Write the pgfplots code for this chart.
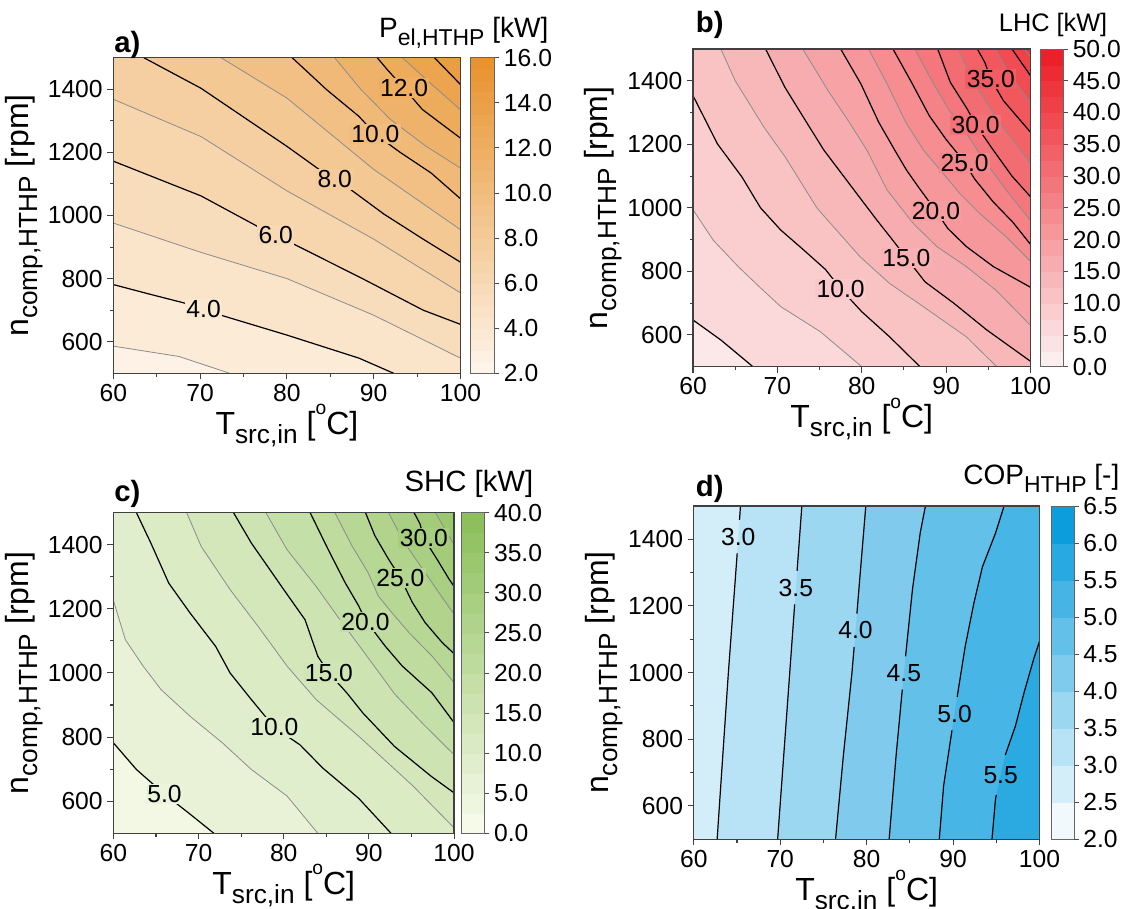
\documentclass[border=0pt]{standalone}
\usepackage{fontspec}
\setmainfont{Liberation Sans}
\usepackage{graphicx}
\usepackage{pgfplots}
\pgfplotsset{compat=1.18}

\definecolor{orA}{RGB}{232,146,44}
\definecolor{lowA}{RGB}{254,246,236}
\definecolor{redB}{RGB}{236,28,36}
\definecolor{lowB}{RGB}{253,243,243}
\definecolor{grnC}{RGB}{138,190,88}
\definecolor{lowC}{RGB}{250,252,238}
\definecolor{bluD}{RGB}{0,152,219}
\definecolor{lowD}{RGB}{255,255,255}
\definecolor{cgray}{RGB}{140,140,140}

\newcommand{\sbs}[1]{\raisebox{-0.28em}{\scalebox{0.82}{#1}}}
\newcommand{\sps}[1]{\raisebox{0.6em}{\scalebox{0.6}{#1}}}
\newcommand{\fs}[1]{\fontsize{#1}{#1}\selectfont}

\tikzset{
  bl/.style={black, line width=0.9pt, line join=round},
  gl/.style={cgray, line width=0.6pt, line join=round},
  lab/.style={font=\fs{18.5}, inner sep=1pt}
}
\pgfplotsset{
  cbs/.style={scale only axis, at={(parent axis.north east)}, anchor=north west,
    tick align=outside, ytick pos=right, yticklabel pos=right,
    major tick length=3.5pt,
    yticklabel style={font=\fs{18.5}, /pgf/number format/.cd, fixed, fixed zerofill, precision=1, assume math mode=true},
    axis line style={black!60, line width=0.6pt},
    every tick/.style={black!70, line width=0.6pt}},
  cp/.style={
    scale only axis, xmin=60, xmax=100, ymin=500, ymax=1500,
    xtick={60,70,80,90,100}, ytick={600,800,1000,1200,1400},
    minor x tick num=1, minor y tick num=1,
    tick align=outside, tick pos=left,
    major tick length=4.5pt, minor tick length=2.5pt,
    every tick/.style={black!75, line width=0.8pt},
    axis line style={black!75, line width=0.9pt},
    tick label style={font=\fs{18.5}},
    /pgf/number format/assume math mode=true,
    /pgf/number format/1000 sep={},
    label style={font=\fs{24}},
    xlabel={T\sbs{src,in} [\sps{o}C]},
    ylabel={n\sbs{comp,HTHP} [rpm]},
    ylabel shift=-3pt, xlabel shift=-4.5pt,
    axis on top,
    colorbar sampled}
}

\begin{document}
\begin{tikzpicture}[x=0.75pt,y=0.75pt]
\path[use as bounding box] (0,0) rectangle (1131,909);

% ---------------- a) ----------------
\begin{axis}[cp, at={(85.05pt,401.78pt)}, anchor=south west, width=260.3pt, height=236.7pt,
  axis background/.style={fill=orA!3.6!lowA},
  colormap={cmA}{rgb255=(254,246,236) rgb255=(232,146,44)},
  point meta min=2, point meta max=16,
  colorbar shift/.style={xshift=7.1pt},
  colorbar style={cbs, width=18.5pt, samples=29, ytick={2,4,6,8,10,12,14,16}}]
\addplot[draw=none, fill=orA!10.7!lowA] coordinates {(60,586) (67.6,553) (73.4,500) (100,500) (100,1500) (60,1500)} -- cycle;
\addplot[draw=none, fill=orA!17.9!lowA] coordinates {(60,781) (64,752) (68.4,721) (72.4,684) (80,621) (88.3,548) (92.3,500) (100,500) (100,1500) (60,1500)} -- cycle;
\addplot[draw=none, fill=orA!25!lowA] coordinates {(60,976) (70.1,883) (80,800) (90,684) (100,548) (100,1500) (60,1500)} -- cycle;
\addplot[draw=none, fill=orA!32.1!lowA] coordinates {(60,1172) (70.1,1062) (76.5,967) (81.1,905) (88.7,800) (95.7,700) (100,655) (100,1500) (60,1500)} -- cycle;
\addplot[draw=none, fill=orA!39.3!lowA] coordinates {(60,1368) (70.1,1250) (80,1078) (90,925) (100,755) (100,1500) (60,1500)} -- cycle;
\addplot[draw=none, fill=orA!46.4!lowA] coordinates {(63.5,1500) (70.1,1403) (80,1219) (83.7,1146) (87.3,1083) (91.2,1004) (95.7,925) (100,852) (100,1500)} -- cycle;
\addplot[draw=none, fill=orA!53.6!lowA] coordinates {(72.4,1500) (80,1372) (90,1146) (100,955) (100,1500)} -- cycle;
\addplot[draw=none, fill=orA!60.7!lowA] coordinates {(80.6,1500) (84.6,1398) (88.3,1314) (90.2,1257) (93.1,1199) (96.6,1135) (100,1053) (100,1500)} -- cycle;
\addplot[draw=none, fill=orA!67.9!lowA] coordinates {(85.5,1500) (88.5,1400) (91.9,1305) (96,1220) (100,1150) (100,1500)} -- cycle;
\addplot[draw=none, fill=orA!75!lowA] coordinates {(90.4,1500) (91.6,1461) (93.5,1403) (95.6,1336) (100,1245) (100,1500)} -- cycle;
\addplot[draw=none, fill=orA!82.1!lowA] coordinates {(93.3,1500) (96.5,1420) (100,1335) (100,1500)} -- cycle;
\addplot[draw=none, fill=orA!89.3!lowA] coordinates {(97,1500) (100,1415) (100,1500)} -- cycle;
% lines
\addplot[gl] coordinates {(60,586) (67.6,553) (73.4,500)};
\addplot[bl] coordinates {(60,781) (64,752) (68.4,721) (72.4,684) (80,621) (88.3,548) (92.3,500)};
\addplot[gl] coordinates {(60,976) (70.1,883) (80,800) (90,684) (100,548)};
\addplot[bl] coordinates {(60,1172) (70.1,1062) (76.5,967) (81.1,905) (88.7,800) (95.7,700) (100,655)};
\addplot[gl] coordinates {(60,1368) (70.1,1250) (80,1078) (90,925) (100,755)};
\addplot[bl] coordinates {(63.5,1500) (70.1,1403) (80,1219) (83.7,1146) (87.3,1083) (91.2,1004) (95.7,925) (100,852)};
\addplot[gl] coordinates {(72.4,1500) (80,1372) (90,1146) (100,955)};
\addplot[bl] coordinates {(80.6,1500) (84.6,1398) (88.3,1314) (90.2,1257) (93.1,1199) (96.6,1135) (100,1053)};
\addplot[gl] coordinates {(85.5,1500) (88.5,1400) (91.9,1305) (96,1220) (100,1150)};
\addplot[bl] coordinates {(90.4,1500) (91.6,1461) (93.5,1403) (95.6,1336) (100,1245)};
\addplot[gl] coordinates {(93.3,1500) (96.5,1420) (100,1335)};
\addplot[bl] coordinates {(97,1500) (100,1415)};
\node[lab, fill=orA!14.3!lowA] at (70.4,703) {4.0};
\node[lab, fill=orA!28.6!lowA] at (78.7,937) {6.0};
\node[lab, fill=orA!42.9!lowA] at (85.5,1114) {8.0};
\node[lab, fill=orA!57.1!lowA] at (90.2,1257) {10.0};
\node[lab, fill=orA!71.4!lowA] at (93.5,1403) {12.0};
\end{axis}

% ---------------- b) ----------------
\begin{axis}[cp, at={(519.75pt,406.73pt)}, anchor=south west, width=253.1pt, height=238.3pt,
  axis background/.style={fill=redB!5!lowB},
  colormap={cmB}{rgb255=(253,243,243) rgb255=(236,28,36)},
  point meta min=0, point meta max=50,
  colorbar shift/.style={xshift=7.1pt},
  colorbar style={cbs, width=17.6pt, samples=21, ytick={0,5,10,15,20,25,30,35,40,45,50}}]
\addplot[draw=none, fill=redB!12.5!lowB] coordinates {(60,647) (63.3,584) (67.1,500) (100,500) (100,1500) (60,1500)} -- cycle;
\addplot[draw=none, fill=redB!17.5!lowB] coordinates {(60,994) (62.4,898) (65.4,814) (68,748) (70.4,689) (75.1,610) (80,500) (100,500) (100,1500) (60,1500)} -- cycle;
\addplot[draw=none, fill=redB!22.5!lowB] coordinates {(60,1353) (62.9,1201) (65.8,1097) (68,1000) (70.4,930) (73,870) (75.7,806) (77.5,745) (80,673) (83.3,594) (86.9,500) (100,500) (100,1500) (60,1500)} -- cycle;
\addplot[draw=none, fill=redB!27.5!lowB] coordinates {(63.3,1500) (65,1400) (68.4,1254) (70.9,1161) (74.7,999) (79.8,846) (83.3,762) (87.3,689) (92.4,594) (96,500) (100,500) (100,1500)} -- cycle;
\addplot[draw=none, fill=redB!32.5!lowB] coordinates {(68.6,1500) (70.9,1379) (73.2,1280) (75.5,1182) (79.4,1045) (81.8,961) (83.5,904) (85.3,842) (87.5,767) (90.9,700) (94.8,616) (100,517) (100,1500)} -- cycle;
\addplot[draw=none, fill=redB!37.5!lowB] coordinates {(73,1500) (76,1369) (78.5,1270) (80.6,1182) (83,1056) (86.1,951) (88.9,878) (92.4,815) (95.9,741) (100,630) (100,1500)} -- cycle;
\addplot[draw=none, fill=redB!42.5!lowB] coordinates {(77.5,1500) (79.9,1390) (82,1270) (83.9,1182) (85.3,1119) (86.7,1066) (88.8,990) (90.2,935) (92.4,878) (95.6,815) (100,750) (100,1500)} -- cycle;
\addplot[draw=none, fill=redB!47.5!lowB] coordinates {(80.8,1500) (83,1390) (85.2,1270) (87.3,1182) (89.3,1119) (91.6,1046) (94,982) (97.1,909) (100,832) (100,1500)} -- cycle;
\addplot[draw=none, fill=redB!52.5!lowB] coordinates {(83.7,1500) (86,1390) (88,1290) (90,1215) (92,1150) (93.4,1090) (95.6,1018) (97.9,955) (100,885) (100,1500)} -- cycle;
\addplot[draw=none, fill=redB!57.5!lowB] coordinates {(86.3,1500) (88.3,1400) (90.3,1310) (92.5,1230) (94.5,1150) (97,1060) (100,960) (100,1500)} -- cycle;
\addplot[draw=none, fill=redB!62.5!lowB] coordinates {(89,1500) (90.5,1395) (92.5,1311) (93.5,1262) (95.5,1185) (97.8,1100) (100,1035) (100,1500)} -- cycle;
\addplot[draw=none, fill=redB!67.5!lowB] coordinates {(91.4,1500) (93,1410) (94.8,1330) (97,1245) (100,1140) (100,1500)} -- cycle;
\addplot[draw=none, fill=redB!72.5!lowB] coordinates {(93.7,1500) (94.6,1457) (95.3,1405) (96.8,1337) (100,1238) (100,1500)} -- cycle;
\addplot[draw=none, fill=redB!77.5!lowB] coordinates {(95.8,1500) (97.5,1420) (100,1330) (100,1500)} -- cycle;
\addplot[draw=none, fill=redB!82.5!lowB] coordinates {(97.8,1500) (100,1416) (100,1500)} -- cycle;
\addplot[draw=none, fill=redB!87.5!lowB] coordinates {(99.3,1500) (100,1475) (100,1500)} -- cycle;
% lines
\addplot[bl] coordinates {(60,647) (63.3,584) (67.1,500)};
\addplot[gl] coordinates {(60,994) (62.4,898) (65.4,814) (68,748) (70.4,689) (75.1,610) (80,500)};
\addplot[bl] coordinates {(60,1353) (62.9,1201) (65.8,1097) (68,1000) (70.4,930) (73,870) (75.7,806) (77.5,745) (80,673) (83.3,594) (86.9,500)};
\addplot[gl] coordinates {(63.3,1500) (65,1400) (68.4,1254) (70.9,1161) (74.7,999) (79.8,846) (83.3,762) (87.3,689) (92.4,594) (96,500)};
\addplot[bl] coordinates {(68.6,1500) (70.9,1379) (73.2,1280) (75.5,1182) (79.4,1045) (81.8,961) (83.5,904) (85.3,842) (87.5,767) (90.9,700) (94.8,616) (100,517)};
\addplot[gl] coordinates {(73,1500) (76,1369) (78.5,1270) (80.6,1182) (83,1056) (86.1,951) (88.9,878) (92.4,815) (95.9,741) (100,630)};
\addplot[bl] coordinates {(77.5,1500) (79.9,1390) (82,1270) (83.9,1182) (85.3,1119) (86.7,1066) (88.8,990) (90.2,935) (92.4,878) (95.6,815) (100,750)};
\addplot[gl] coordinates {(80.8,1500) (83,1390) (85.2,1270) (87.3,1182) (89.3,1119) (91.6,1046) (94,982) (97.1,909) (100,832)};
\addplot[bl] coordinates {(83.7,1500) (86,1390) (88,1290) (90,1215) (92,1150) (93.4,1090) (95.6,1018) (97.9,955) (100,885)};
\addplot[gl] coordinates {(86.3,1500) (88.3,1400) (90.3,1310) (92.5,1230) (94.5,1150) (97,1060) (100,960)};
\addplot[bl] coordinates {(89,1500) (90.5,1395) (92.5,1311) (93.5,1262) (95.5,1185) (97.8,1100) (100,1035)};
\addplot[gl] coordinates {(91.4,1500) (93,1410) (94.8,1330) (97,1245) (100,1140)};
\addplot[bl] coordinates {(93.7,1500) (94.6,1457) (95.3,1405) (96.8,1337) (100,1238)};
\addplot[gl] coordinates {(95.8,1500) (97.5,1420) (100,1330)};
\addplot[bl] coordinates {(97.8,1500) (100,1416)};
\addplot[gl] coordinates {(99.3,1500) (100,1475)};
\node[lab, fill=redB!20!lowB] at (77.5,745) {10.0};
\node[lab, fill=redB!30!lowB] at (85.3,842) {15.0};
\node[lab, fill=redB!40!lowB] at (88.8,990) {20.0};
\node[lab, fill=redB!50!lowB] at (92.2,1141) {25.0};
\node[lab, fill=redB!60!lowB] at (93.5,1262) {30.0};
\node[lab, fill=redB!70!lowB] at (95.3,1405) {35.0};
\end{axis}

% ---------------- c) ----------------
\begin{axis}[cp, at={(85.05pt,56.78pt)}, anchor=south west, width=255.5pt, height=240.5pt,
  axis background/.style={fill=grnC!6.25!lowC},
  colormap={cmC}{rgb255=(250,252,238) rgb255=(138,190,88)},
  point meta min=0, point meta max=40,
  colorbar shift/.style={xshift=5.25pt},
  colorbar style={cbs, width=17.7pt, samples=17, ytick={0,5,10,15,20,25,30,35,40}}]
\addplot[draw=none, fill=grnC!15.6!lowC] coordinates {(60,782) (62.7,699) (66,622) (68.8,564) (71.8,500) (100,500) (100,1500) (60,1500)} -- cycle;
\addplot[draw=none, fill=grnC!21.9!lowC] coordinates {(60,1226) (61.4,1104) (63.5,1021) (65.6,948) (69,865) (72.8,782) (76.2,699) (80.4,616) (84,500) (100,500) (100,1500) (60,1500)} -- cycle;
\addplot[draw=none, fill=grnC!28.1!lowC] coordinates {(62.7,1500) (64.4,1405) (66.5,1280) (69,1187) (72,1083) (73.7,1000) (76.2,917) (78.9,830) (81.9,776) (84.6,703) (88.8,609) (92.6,500) (100,500) (100,1500)} -- cycle;
\addplot[draw=none, fill=grnC!34.4!lowC] coordinates {(68.6,1500) (70.3,1395) (73.7,1260) (77,1145) (80.4,1021) (83.8,917) (88.8,803) (95.2,647) (100,517) (100,1500)} -- cycle;
\addplot[draw=none, fill=grnC!40.6!lowC] coordinates {(74.1,1500) (76.2,1405) (80,1260) (82.5,1166) (84,1052) (85.3,1000) (87.4,938) (89.3,875) (93,771) (97.3,678) (100,626) (100,1500)} -- cycle;
\addplot[draw=none, fill=grnC!46.9!lowC] coordinates {(77.9,1500) (80.4,1384) (83.8,1270) (86.3,1177) (89,1080) (91.5,990) (93,935) (96.4,840) (100,745) (100,1500)} -- cycle;
\addplot[draw=none, fill=grnC!53.1!lowC] coordinates {(83.1,1500) (85.2,1386) (87.2,1282) (88.8,1209) (89.6,1165) (91.9,1084) (93.9,1022) (97.4,938) (100,845) (100,1500)} -- cycle;
\addplot[draw=none, fill=grnC!59.4!lowC] coordinates {(86,1500) (88,1397) (89.9,1313) (91.1,1240) (92.7,1188) (94.7,1126) (97.4,1053) (100,970) (100,1500)} -- cycle;
\addplot[draw=none, fill=grnC!65.6!lowC] coordinates {(89.6,1500) (90.7,1428) (92.3,1355) (93.7,1297) (95.1,1220) (96.6,1157) (98.6,1095) (100,1060) (100,1500)} -- cycle;
\addplot[draw=none, fill=grnC!71.9!lowC] coordinates {(92.3,1500) (93.5,1439) (94.7,1386) (96.6,1313) (98.2,1251) (100,1183) (100,1500)} -- cycle;
\addplot[draw=none, fill=grnC!78.1!lowC] coordinates {(95.3,1500) (96,1465) (96.45,1420) (98.2,1346) (99.4,1293) (100,1270) (100,1500)} -- cycle;
\addplot[draw=none, fill=grnC!84.4!lowC] coordinates {(97.8,1500) (100,1400) (100,1500)} -- cycle;
% lines
\addplot[bl] coordinates {(60,782) (62.7,699) (66,622) (68.8,564) (71.8,500)};
\addplot[gl] coordinates {(60,1226) (61.4,1104) (63.5,1021) (65.6,948) (69,865) (72.8,782) (76.2,699) (80.4,616) (84,500)};
\addplot[bl] coordinates {(62.7,1500) (64.4,1405) (66.5,1280) (69,1187) (72,1083) (73.7,1000) (76.2,917) (78.9,830) (81.9,776) (84.6,703) (88.8,609) (92.6,500)};
\addplot[gl] coordinates {(68.6,1500) (70.3,1395) (73.7,1260) (77,1145) (80.4,1021) (83.8,917) (88.8,803) (95.2,647) (100,517)};
\addplot[bl] coordinates {(74.1,1500) (76.2,1405) (80,1260) (82.5,1166) (84,1052) (85.3,1000) (87.4,938) (89.3,875) (93,771) (97.3,678) (100,626)};
\addplot[gl] coordinates {(77.9,1500) (80.4,1384) (83.8,1270) (86.3,1177) (89,1080) (91.5,990) (93,935) (96.4,840) (100,745)};
\addplot[bl] coordinates {(83.1,1500) (85.2,1386) (87.2,1282) (88.8,1209) (89.6,1165) (91.9,1084) (93.9,1022) (97.4,938) (100,845)};
\addplot[gl] coordinates {(86,1500) (88,1397) (89.9,1313) (91.1,1240) (92.7,1188) (94.7,1126) (97.4,1053) (100,970)};
\addplot[bl] coordinates {(89.6,1500) (90.7,1428) (92.3,1355) (93.7,1297) (95.1,1220) (96.6,1157) (98.6,1095) (100,1060)};
\addplot[gl] coordinates {(92.3,1500) (93.5,1439) (94.7,1386) (96.6,1313) (98.2,1251) (100,1183)};
\addplot[bl] coordinates {(95.3,1500) (96,1465) (96.45,1420) (98.2,1346) (99.4,1293) (100,1270)};
\addplot[gl] coordinates {(97.8,1500) (100,1400)};
\node[lab, fill=grnC!12.5!lowC] at (66,622) {5.0};
\node[lab, fill=grnC!25!lowC] at (78.9,830) {10.0};
\node[lab, fill=grnC!37.5!lowC] at (85.3,1000) {15.0};
\node[lab, fill=grnC!50!lowC] at (89.6,1160) {20.0};
\node[lab, fill=grnC!62.5!lowC] at (93.7,1297) {25.0};
\node[lab, fill=grnC!75!lowC] at (96.45,1420) {30.0};
\end{axis}

% ---------------- d) ----------------
\begin{axis}[cp, at={(520.35pt,52.28pt)}, anchor=south west, width=259.3pt, height=250pt,
  axis background/.style={fill=bluD!16.7!lowD},
  colormap={cmD}{rgb255=(255,255,255) rgb255=(0,152,219)},
  point meta min=2, point meta max=6.5,
  colorbar shift/.style={xshift=8.6pt},
  colorbar style={cbs, width=17.25pt, samples=10, ytick={2,2.5,3,3.5,4,4.5,5,5.5,6,6.5}}]
\addplot[draw=none, fill=bluD!27.8!lowD] coordinates {(62.7,500) (64.0,1000) (65.4,1500) (100,1500) (100,500)} -- cycle;
\addplot[draw=none, fill=bluD!38.9!lowD] coordinates {(69.7,500) (71.1,1000) (72.5,1500) (100,1500) (100,500)} -- cycle;
\addplot[draw=none, fill=bluD!50!lowD] coordinates {(76.4,500) (77.3,750) (78.3,1000) (79.1,1250) (79.9,1500) (100,1500) (100,500)} -- cycle;
\addplot[draw=none, fill=bluD!61.1!lowD] coordinates {(82.6,500) (83.4,750) (84.3,1000) (85.3,1250) (86.2,1420) (86.8,1500) (100,1500) (100,500)} -- cycle;
\addplot[draw=none, fill=bluD!72.2!lowD] coordinates {(88.4,500) (88.9,660) (90.0,850) (91.4,1079) (92.4,1208) (93.4,1318) (94.9,1418) (95.9,1500) (100,1500) (100,500)} -- cycle;
\addplot[draw=none, fill=bluD!83.3!lowD] coordinates {(94.5,500) (94.9,620) (95.5,693) (96.1,760) (97.2,839) (98.2,939) (99.3,1039) (100,1094) (100,500)} -- cycle;
% lines (broken at labels)
\addplot[bl] coordinates {(62.7,500) (64.0,1000) (65.02,1358)};
\addplot[bl] coordinates {(65.29,1458) (65.4,1500)};
\addplot[bl] coordinates {(69.7,500) (71.1,1000) (71.67,1205)};
\addplot[bl] coordinates {(71.95,1305) (72.5,1500)};
\addplot[bl] coordinates {(76.4,500) (77.3,750) (78.3,1000) (78.55,1077)};
\addplot[bl] coordinates {(78.87,1177) (79.1,1250) (79.9,1500)};
\addplot[bl] coordinates {(82.6,500) (83.4,750) (84.12,949)};
\addplot[bl] coordinates {(84.5,1049) (85.3,1250) (86.2,1420) (86.8,1500)};
\addplot[bl] coordinates {(88.4,500) (88.9,660) (89.87,827)};
\addplot[bl] coordinates {(90.47,927) (91.4,1079) (92.4,1208) (93.4,1318) (94.9,1418) (95.9,1500)};
\addplot[bl] coordinates {(94.5,500) (94.9,620) (95.0,633)};
\addplot[bl] coordinates {(96.04,753) (97.2,839) (98.2,939) (99.3,1039) (100,1094)};
\node[lab] at (65.15,1408) {3.0};
\node[lab] at (71.81,1255) {3.5};
\node[lab] at (78.71,1127) {4.0};
\node[lab] at (84.3,999) {4.5};
\node[lab] at (90.17,877) {5.0};
\node[lab] at (95.5,693) {5.5};
\end{axis}

% titles and panel letters
\node[anchor=base east, font=\fs{21}] at (553,871) {P\sbs{el,HTHP} [kW]};
\node[anchor=base east, font=\fs{19}] at (1112,877) {LHC [kW]};
\node[anchor=base east, font=\fs{22}] at (538,417) {SHC [kW]};
\node[anchor=base east, font=\fs{21}] at (1124,424) {COP\sbs{HTHP} [-]};
\node[anchor=base west, font=\bfseries\fs{22}, inner sep=0pt] at (114,856) {a)};
\node[anchor=base west, font=\bfseries\fs{22}, inner sep=0pt] at (695.6,876) {b)};
\node[anchor=base west, font=\bfseries\fs{22}, inner sep=0pt] at (114,407) {c)};
\node[anchor=base west, font=\bfseries\fs{22}, inner sep=0pt] at (695.6,412) {d)};
\end{tikzpicture}
\end{document}
